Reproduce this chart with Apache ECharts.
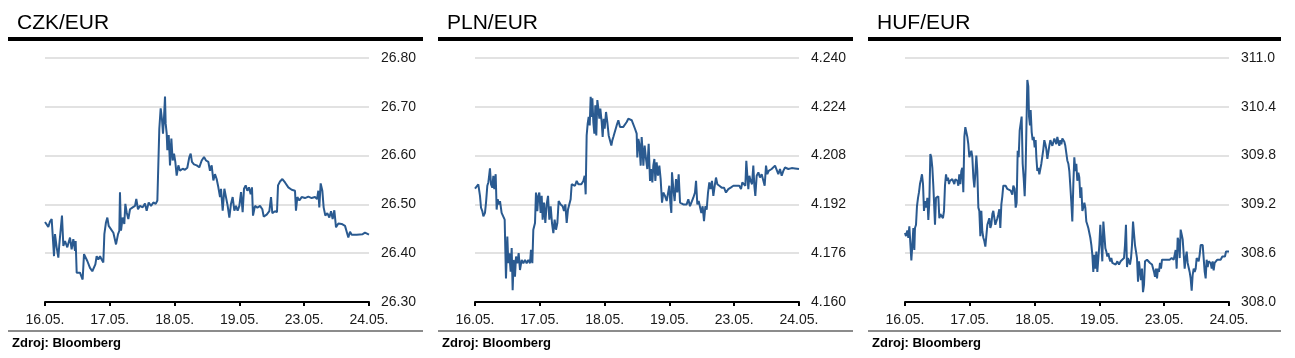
<!DOCTYPE html>
<html><head><meta charset="utf-8">
<script src="https://cdn.jsdelivr.net/npm/echarts@6/dist/echarts.min.js"></script>
<style>html,body{margin:0;padding:0;background:#fff}#c{width:1295px;height:358px}</style>
</head><body><div id="c"></div>
<script>
const dateLabels = ['16.05.','17.05.','18.05.','19.05.','23.05.','24.05.'];
const panelTitles = ['CZK/EUR','PLN/EUR','HUF/EUR'];
const sourceText = 'Zdroj: Bloomberg';
const czkTicks = [26.30,26.40,26.50,26.60,26.70,26.80];
const plnTicks = [4.160,4.176,4.192,4.208,4.224,4.240];
const hufTicks = [308.0,308.6,309.2,309.8,310.4,311.0];

// [day index (0 = 16.05. ... 5 = 24.05.), rate]
const czkData = [[0,26.464],[0.026,26.461],[0.051,26.454],[0.077,26.465],[0.103,26.470],[0.118,26.473],[0.139,26.394],[0.154,26.439],[0.180,26.412],[0.206,26.391],[0.221,26.418],[0.247,26.415],[0.262,26.477],[0.283,26.415],[0.309,26.425],[0.344,26.412],[0.386,26.432],[0.411,26.408],[0.437,26.429],[0.463,26.405],[0.473,26.425],[0.489,26.360],[0.514,26.356],[0.540,26.360],[0.566,26.351],[0.581,26.346],[0.602,26.398],[0.628,26.394],[0.653,26.384],[0.694,26.370],[0.730,26.363],[0.756,26.360],[0.777,26.377],[0.797,26.394],[0.823,26.387],[0.849,26.394],[0.874,26.387],[0.900,26.381],[0.916,26.439],[0.941,26.463],[0.962,26.473],[0.983,26.456],[1.013,26.453],[1.055,26.442],[1.096,26.418],[1.127,26.439],[1.147,26.446],[1.157,26.525],[1.173,26.446],[1.198,26.473],[1.224,26.460],[1.240,26.501],[1.260,26.484],[1.286,26.470],[1.312,26.490],[1.353,26.494],[1.389,26.497],[1.409,26.511],[1.435,26.490],[1.466,26.497],[1.507,26.494],[1.543,26.502],[1.569,26.487],[1.600,26.504],[1.636,26.497],[1.672,26.504],[1.708,26.501],[1.734,26.508],[1.754,26.511],[1.764,26.655],[1.785,26.697],[1.806,26.673],[1.821,26.645],[1.836,26.676],[1.852,26.721],[1.862,26.666],[1.878,26.645],[1.888,26.611],[1.909,26.642],[1.929,26.580],[1.950,26.635],[1.970,26.590],[1.991,26.604],[2.011,26.587],[2.032,26.559],[2.058,26.580],[2.083,26.569],[2.124,26.573],[2.160,26.571],[2.196,26.575],[2.227,26.597],[2.248,26.604],[2.268,26.587],[2.299,26.582],[2.341,26.580],[2.381,26.576],[2.418,26.590],[2.454,26.597],[2.485,26.590],[2.521,26.587],[2.546,26.569],[2.572,26.580],[2.598,26.549],[2.623,26.562],[2.649,26.552],[2.675,26.535],[2.701,26.515],[2.716,26.532],[2.742,26.487],[2.768,26.532],[2.793,26.515],[2.819,26.497],[2.845,26.473],[2.870,26.501],[2.896,26.515],[2.922,26.487],[2.947,26.497],[2.973,26.487],[2.999,26.497],[3.025,26.525],[3.050,26.484],[3.071,26.532],[3.097,26.539],[3.122,26.528],[3.148,26.535],[3.174,26.521],[3.194,26.535],[3.210,26.477],[3.241,26.497],[3.277,26.493],[3.318,26.497],[3.354,26.490],[3.375,26.475],[3.421,26.479],[3.462,26.486],[3.488,26.515],[3.508,26.482],[3.549,26.486],[3.580,26.484],[3.596,26.539],[3.627,26.547],[3.663,26.552],[3.704,26.545],[3.755,26.535],[3.807,26.530],[3.858,26.528],[3.873,26.487],[3.894,26.515],[3.925,26.508],[3.961,26.515],[4.012,26.513],[4.064,26.516],[4.115,26.513],[4.167,26.515],[4.198,26.511],[4.218,26.528],[4.233,26.494],[4.254,26.543],[4.280,26.528],[4.300,26.494],[4.326,26.477],[4.357,26.482],[4.388,26.473],[4.414,26.486],[4.439,26.470],[4.465,26.488],[4.491,26.453],[4.527,26.461],[4.578,26.460],[4.630,26.456],[4.655,26.453],[4.681,26.432],[4.707,26.444],[4.733,26.438],[4.810,26.438],[4.902,26.439],[4.938,26.442],[5,26.438]];

const plnData = [[0,4.1972],[0.026,4.1970],[0.051,4.1986],[0.067,4.1981],[0.077,4.1948],[0.093,4.1909],[0.113,4.1898],[0.129,4.1881],[0.154,4.1892],[0.170,4.1926],[0.190,4.1981],[0.206,4.1992],[0.221,4.2019],[0.231,4.2038],[0.247,4.1986],[0.267,4.1975],[0.283,4.2014],[0.298,4.1970],[0.319,4.2019],[0.334,4.1903],[0.350,4.1937],[0.370,4.1920],[0.386,4.1931],[0.411,4.1892],[0.437,4.1887],[0.458,4.1870],[0.468,4.1771],[0.478,4.1677],[0.499,4.1815],[0.514,4.1727],[0.530,4.1760],[0.550,4.1699],[0.566,4.1777],[0.581,4.1639],[0.597,4.1738],[0.617,4.1683],[0.633,4.1749],[0.653,4.1727],[0.674,4.1760],[0.694,4.1705],[0.720,4.1738],[0.746,4.1727],[0.772,4.1738],[0.797,4.1727],[0.823,4.1738],[0.849,4.1727],[0.864,4.1771],[0.885,4.1727],[0.900,4.1837],[0.926,4.1859],[0.941,4.1959],[0.962,4.1898],[0.977,4.1948],[0.993,4.1959],[1.013,4.1892],[1.029,4.1948],[1.044,4.1870],[1.065,4.1926],[1.085,4.1859],[1.106,4.1920],[1.127,4.1948],[1.147,4.1870],[1.168,4.1914],[1.188,4.1859],[1.209,4.1826],[1.229,4.1870],[1.250,4.1837],[1.271,4.1859],[1.291,4.1931],[1.322,4.1920],[1.353,4.1914],[1.373,4.1898],[1.394,4.1920],[1.415,4.1859],[1.435,4.1903],[1.456,4.1909],[1.476,4.1937],[1.492,4.1986],[1.517,4.1992],[1.543,4.1981],[1.569,4.1997],[1.595,4.1986],[1.620,4.1992],[1.641,4.1986],[1.656,4.1981],[1.672,4.1997],[1.692,4.2014],[1.708,4.1953],[1.723,4.2146],[1.739,4.2185],[1.754,4.2207],[1.770,4.2179],[1.785,4.2273],[1.800,4.2207],[1.811,4.2268],[1.826,4.2190],[1.842,4.2152],[1.857,4.2245],[1.872,4.2146],[1.888,4.2262],[1.903,4.2234],[1.919,4.2201],[1.934,4.2234],[1.955,4.2190],[1.970,4.2141],[1.986,4.2201],[2.001,4.2168],[2.022,4.2223],[2.042,4.2190],[2.063,4.2146],[2.083,4.2146],[2.104,4.2113],[2.119,4.2130],[2.135,4.2141],[2.160,4.2146],[2.186,4.2179],[2.212,4.2196],[2.238,4.2174],[2.263,4.2170],[2.289,4.2174],[2.315,4.2179],[2.341,4.2190],[2.366,4.2201],[2.392,4.2196],[2.418,4.2196],[2.443,4.2190],[2.469,4.2168],[2.495,4.2152],[2.505,4.2074],[2.521,4.2135],[2.536,4.2119],[2.557,4.2047],[2.572,4.2141],[2.588,4.2091],[2.598,4.2047],[2.618,4.2113],[2.639,4.2069],[2.659,4.2036],[2.680,4.2119],[2.701,4.1997],[2.716,4.2036],[2.737,4.1992],[2.752,4.2047],[2.768,4.2069],[2.783,4.1997],[2.803,4.2058],[2.824,4.2014],[2.845,4.2047],[2.865,4.2003],[2.886,4.1926],[2.906,4.1959],[2.932,4.1948],[2.958,4.1931],[2.984,4.1937],[2.999,4.1981],[3.014,4.1926],[3.030,4.1892],[3.040,4.2025],[3.061,4.1970],[3.081,4.1931],[3.102,4.2003],[3.122,4.1959],[3.143,4.2019],[3.164,4.1926],[3.189,4.1931],[3.215,4.1920],[3.241,4.1926],[3.266,4.1920],[3.292,4.1937],[3.318,4.1914],[3.344,4.1920],[3.369,4.1942],[3.395,4.1959],[3.411,4.1997],[3.431,4.1920],[3.452,4.1931],[3.472,4.1937],[3.493,4.1892],[3.513,4.1914],[3.534,4.1865],[3.555,4.1914],[3.575,4.1903],[3.596,4.1959],[3.616,4.1992],[3.637,4.1970],[3.657,4.1997],[3.678,4.1948],[3.699,4.1981],[3.719,4.2008],[3.740,4.1986],[3.771,4.1981],[3.807,4.1975],[3.843,4.1975],[3.873,4.1959],[3.909,4.1970],[3.946,4.1975],[3.987,4.1981],[4.038,4.1981],[4.079,4.1981],[4.105,4.1970],[4.125,4.1992],[4.151,4.1997],[4.172,4.1981],[4.187,4.2063],[4.203,4.2014],[4.218,4.1970],[4.234,4.2014],[4.254,4.1997],[4.275,4.1986],[4.295,4.2047],[4.311,4.1981],[4.326,4.1948],[4.347,4.2014],[4.373,4.2025],[4.398,4.2008],[4.424,4.2019],[4.450,4.2025],[4.470,4.1981],[4.491,4.2047],[4.511,4.2019],[4.532,4.2030],[4.552,4.2025],[4.578,4.2036],[4.604,4.2030],[4.630,4.2047],[4.655,4.2041],[4.681,4.2019],[4.707,4.2036],[4.733,4.2014],[4.758,4.2030],[4.784,4.2041],[4.810,4.2041],[4.835,4.2036],[4.861,4.2041],[4.887,4.2039],[4.913,4.2036],[4.938,4.2038],[4.964,4.2041],[5,4.2036]];

const hufData = [[0,308.85],[0.015,308.81],[0.036,308.88],[0.051,308.79],[0.067,308.93],[0.082,308.94],[0.098,308.51],[0.113,308.70],[0.129,308.91],[0.144,308.64],[0.154,308.91],[0.170,308.95],[0.185,309.18],[0.201,309.28],[0.216,309.35],[0.231,309.45],[0.247,309.51],[0.262,309.57],[0.278,309.45],[0.293,309.12],[0.309,309.24],[0.329,309.16],[0.345,309.28],[0.360,309.01],[0.376,309.24],[0.391,309.82],[0.406,309.78],[0.422,309.65],[0.437,309.43],[0.453,309.41],[0.463,308.95],[0.478,309.28],[0.494,309.30],[0.514,309.30],[0.530,309.03],[0.545,309.08],[0.566,309.06],[0.586,309.03],[0.602,309.12],[0.617,309.43],[0.633,309.57],[0.648,309.49],[0.664,309.53],[0.679,309.45],[0.694,309.49],[0.710,309.47],[0.730,309.51],[0.746,309.53],[0.761,309.45],[0.777,309.51],[0.792,309.53],[0.808,309.49],[0.823,309.43],[0.838,309.57],[0.854,309.45],[0.869,309.61],[0.885,309.65],[0.900,309.35],[0.916,310.03],[0.931,310.15],[0.947,310.17],[0.962,310.03],[0.977,309.94],[0.993,309.78],[1.008,309.80],[1.024,309.86],[1.039,309.78],[1.055,309.53],[1.070,309.41],[1.085,309.57],[1.101,309.80],[1.116,309.61],[1.132,309.16],[1.147,309.12],[1.163,308.81],[1.178,309.12],[1.193,308.87],[1.209,308.79],[1.224,308.75],[1.240,308.68],[1.255,308.70],[1.271,308.95],[1.286,308.97],[1.301,309.03],[1.317,308.91],[1.332,308.95],[1.348,309.08],[1.363,309.12],[1.379,309.03],[1.394,308.95],[1.409,308.93],[1.425,309.03],[1.440,309.08],[1.456,309.14],[1.471,308.91],[1.487,309.20],[1.502,309.30],[1.517,309.43],[1.533,309.41],[1.553,309.43],[1.579,309.39],[1.605,309.41],[1.631,309.37],[1.656,309.32],[1.672,309.43],[1.692,309.39],[1.708,309.16],[1.723,309.22],[1.739,309.86],[1.754,309.78],[1.770,310.11],[1.785,310.11],[1.800,310.28],[1.816,309.70],[1.831,309.53],[1.847,309.30],[1.862,309.65],[1.878,310.32],[1.888,310.73],[1.903,310.65],[1.914,310.28],[1.929,310.17],[1.939,310.36],[1.955,310.09],[1.970,309.99],[1.986,310.03],[2.001,309.90],[2.016,309.99],[2.027,309.78],[2.042,309.61],[2.058,309.65],[2.073,309.57],[2.088,309.57],[2.104,309.70],[2.119,309.68],[2.135,309.88],[2.150,309.99],[2.166,309.94],[2.181,309.88],[2.197,309.76],[2.212,309.78],[2.227,309.92],[2.243,309.99],[2.258,309.97],[2.274,309.92],[2.289,309.94],[2.305,310.01],[2.320,309.99],[2.335,309.94],[2.351,310.03],[2.366,309.97],[2.382,309.92],[2.397,309.99],[2.413,309.94],[2.428,310.01],[2.443,309.99],[2.459,309.97],[2.474,309.92],[2.490,309.90],[2.505,309.74],[2.521,309.70],[2.536,309.61],[2.551,309.43],[2.567,309.22],[2.582,308.99],[2.598,309.45],[2.613,309.78],[2.629,309.61],[2.644,309.70],[2.659,309.49],[2.675,309.59],[2.690,309.53],[2.706,309.28],[2.721,309.41],[2.737,309.12],[2.752,309.16],[2.768,309.22],[2.783,309.16],[2.798,308.99],[2.814,308.95],[2.829,308.91],[2.845,308.89],[2.860,308.79],[2.876,308.70],[2.891,308.58],[2.906,308.37],[2.922,308.58],[2.937,308.41],[2.953,308.62],[2.968,308.37],[2.984,308.37],[2.999,308.70],[3.014,308.95],[3.030,308.97],[3.045,308.50],[3.061,308.99],[3.076,308.83],[3.092,308.66],[3.107,308.62],[3.122,308.56],[3.138,308.60],[3.153,308.54],[3.169,308.50],[3.184,308.54],[3.200,308.48],[3.225,308.50],[3.251,308.46],[3.277,308.50],[3.302,308.46],[3.328,308.50],[3.354,308.48],[3.380,308.54],[3.395,308.70],[3.410,308.95],[3.426,308.43],[3.441,308.54],[3.457,308.50],[3.472,308.46],[3.488,308.54],[3.503,308.70],[3.519,308.99],[3.534,309.01],[3.549,308.70],[3.565,308.62],[3.580,308.54],[3.596,308.25],[3.611,308.50],[3.627,308.37],[3.642,308.27],[3.657,308.41],[3.673,308.12],[3.688,308.21],[3.704,308.50],[3.719,308.48],[3.735,308.52],[3.750,308.54],[3.765,308.50],[3.781,308.48],[3.796,308.50],[3.812,308.46],[3.827,308.48],[3.843,308.37],[3.858,308.31],[3.873,308.41],[3.889,308.29],[3.904,308.41],[3.920,308.37],[3.935,308.48],[3.951,308.41],[3.966,308.52],[3.981,308.50],[3.997,308.52],[4.023,308.50],[4.053,308.52],[4.084,308.52],[4.115,308.54],[4.146,308.52],[4.162,308.54],[4.177,308.64],[4.192,308.41],[4.208,308.79],[4.223,308.75],[4.239,308.54],[4.254,308.89],[4.270,308.83],[4.285,308.77],[4.300,308.60],[4.316,308.41],[4.331,308.54],[4.347,308.62],[4.362,308.48],[4.378,308.50],[4.393,308.37],[4.408,308.29],[4.424,308.14],[4.439,308.33],[4.455,308.41],[4.470,308.37],[4.486,308.41],[4.501,308.54],[4.516,308.56],[4.532,308.50],[4.547,308.58],[4.563,308.70],[4.578,308.72],[4.594,308.70],[4.609,308.70],[4.625,308.37],[4.640,308.29],[4.655,308.52],[4.671,308.43],[4.686,308.50],[4.702,308.52],[4.717,308.48],[4.733,308.41],[4.748,308.50],[4.763,308.39],[4.779,308.48],[4.794,308.50],[4.820,308.52],[4.846,308.54],[4.871,308.52],[4.897,308.56],[4.923,308.54],[4.938,308.56],[4.954,308.62],[4.969,308.64],[4.985,308.62],[5,308.62]];

const FONT = '"Liberation Sans", Arial, Helvetica, sans-serif';
const LINE_COLOR = '#2a5a90';
const panels = [
  {data: czkData, ticks: czkTicks, dec: 2},
  {data: plnData, ticks: plnTicks, dec: 3},
  {data: hufData, ticks: hufTicks, dec: 1}
];
const panelX = [0, 430, 860];
const ruleW = [415, 415, 413];

const grids = [], xAxes = [], yAxes = [], series = [], titles = [], graphics = [];
panels.forEach((p, i) => {
  const ox = panelX[i];
  const step = Math.round((p.ticks[1] - p.ticks[0]) * 10000) / 10000;
  grids.push({left: ox + 45, top: 58, width: 324, height: 244});
  xAxes.push({
    type: 'value', gridIndex: i, min: 0, max: dateLabels.length - 1, interval: 1, z: 5,
    axisLine: {show: true, onZero: false, lineStyle: {color: '#000', width: 2}},
    axisTick: {show: true, length: 4, lineStyle: {color: '#000', width: 2}},
    axisLabel: {margin: 11, color: '#1a1a1a', fontSize: 14, fontFamily: FONT,
      showMinLabel: true, showMaxLabel: true,
      formatter: v => dateLabels[Math.round(v)]},
    splitLine: {show: false}
  });
  yAxes.push({
    type: 'value', gridIndex: i, position: 'right',
    min: p.ticks[0], max: p.ticks[p.ticks.length - 1], interval: step,
    axisLine: {show: false}, axisTick: {show: false},
    axisLabel: {margin: 12, color: '#1a1a1a', fontSize: 14, fontFamily: FONT,
      showMinLabel: true, showMaxLabel: true,
      formatter: v => v.toFixed(p.dec)},
    splitLine: {show: true, lineStyle: {color: '#d9d9d9', width: 1.5}}
  });
  series.push({
    type: 'line', xAxisIndex: i, yAxisIndex: i, data: p.data,
    showSymbol: false, symbol: 'none', animation: false,
    lineStyle: {color: LINE_COLOR, width: 2}
  });
  titles.push({
    text: panelTitles[i], left: ox + 12, top: 8,
    textStyle: {fontSize: 21, fontWeight: 'normal', color: '#000', fontFamily: FONT}
  });
  graphics.push({type: 'rect', left: ox + 8, top: 37, shape: {width: ruleW[i], height: 4}, style: {fill: '#000'}, silent: true});
  graphics.push({type: 'rect', left: ox + 8, top: 330, shape: {width: ruleW[i], height: 2}, style: {fill: '#8c8c8c'}, silent: true});
  graphics.push({type: 'text', left: ox + 12, top: 337, style: {text: sourceText, fill: '#000', font: 'bold 13px ' + FONT}, silent: true});
});

const chart = echarts.init(document.getElementById('c'), null, {renderer: 'canvas'});
chart.setOption({
  animation: false,
  backgroundColor: '#fff',
  title: titles,
  grid: grids,
  xAxis: xAxes,
  yAxis: yAxes,
  series: series,
  graphic: graphics
});
</script>
</body></html>
